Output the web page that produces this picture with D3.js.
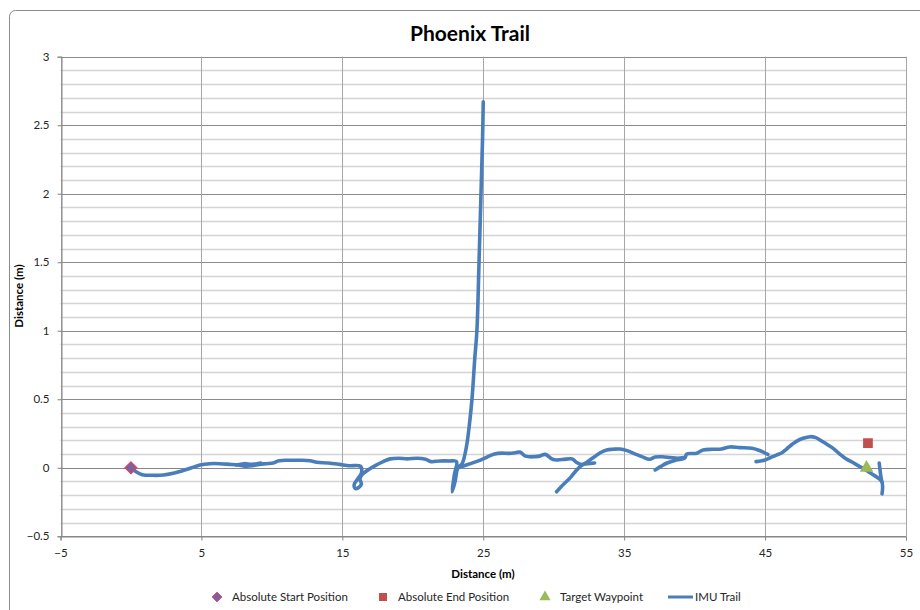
<!DOCTYPE html>
<html>
<head>
<meta charset="utf-8">
<script src="https://cdn.jsdelivr.net/npm/d3@7"></script>
<style>
  body { margin: 0; background: #fff; }
  svg { font-family: Lato, "Open Sans", sans-serif; }
</style>
</head>
<body>
<div class="canva"></div>
<script>
// Data (x, y in metres). Gaps split the trail into pieces.
const trailSeg1 = [
  [0, 0], [0.3, -0.025], [0.8, -0.05], [1.5, -0.055], [2.3, -0.053], [3.0, -0.04],
  [3.7, -0.02], [4.3, 0.0], [4.9, 0.02], [5.6, 0.03], [6.3, 0.03], [7.0, 0.025],
  [7.6, 0.02], [8.1, 0.012], [8.6, 0.015], [9.1, 0.025], [9.6, 0.03], [10.1, 0.035],
  [10.5, 0.052], [11.2, 0.055], [12.0, 0.055], [12.7, 0.052], [13.2, 0.04], [14.0, 0.035],
  [14.8, 0.025], [15.5, 0.015], [16.3, 0.01], [16.35, -0.04], [16.1, -0.08], [15.85, -0.12],
  [15.9, -0.15], [16.15, -0.145], [16.35, -0.12], [16.25, -0.08], [16.4, -0.05], [16.9, -0.01],
  [17.4, 0.02], [17.9, 0.045], [18.4, 0.065], [19.0, 0.07], [19.6, 0.065], [20.3, 0.07],
  [20.9, 0.062], [21.3, 0.045], [21.9, 0.05], [22.6, 0.05], [23.1, 0.045], [22.95, -0.05],
  [22.8, -0.175], [23.0, -0.1], [23.2, 0.0], [23.5, 0.03], [23.8, 0.15], [24.0, 0.3],
  [24.2, 0.5], [24.4, 0.8], [24.55, 1.0], [24.7, 1.5], [24.84, 2.0], [24.95, 2.4], [25.0, 2.67]
];
const trailSeg2 = [
  [7.5, 0.02], [8.0, 0.03], [8.6, 0.025], [9.2, 0.035]
];
const trailSeg3 = [
  [23.2, 0.0], [23.8, 0.02], [24.5, 0.045], [25.0, 0.065], [25.3, 0.08], [25.8, 0.1],
  [26.3, 0.107], [26.8, 0.105], [27.3, 0.11], [27.6, 0.115], [28.0, 0.085], [28.5, 0.08],
  [29.0, 0.085], [29.4, 0.098], [29.95, 0.06], [30.6, 0.06], [31.3, 0.065], [31.6, 0.04],
  [31.9, 0.025], [32.4, 0.03], [32.9, 0.035]
];
const trailSeg4 = [
  [30.2, -0.175], [30.7, -0.12], [31.2, -0.07], [31.6, -0.02], [31.9, 0.01], [32.4, 0.045],
  [32.9, 0.08], [33.3, 0.11], [33.76, 0.13], [34.2, 0.135], [34.7, 0.137], [35.2, 0.125],
  [35.8, 0.1], [36.3, 0.08], [36.8, 0.062], [37.2, 0.078], [37.7, 0.08], [38.25, 0.075],
  [38.8, 0.07], [39.2, 0.075]
];
const trailSeg5 = [
  [37.2, -0.016], [37.6, 0.01], [38.0, 0.033], [38.7, 0.057], [39.3, 0.07], [39.44, 0.1],
  [40.15, 0.106], [40.6, 0.13], [41.3, 0.135], [41.9, 0.137], [42.5, 0.152], [43.2, 0.147],
  [44.06, 0.142], [44.5, 0.13], [44.9, 0.113], [45.2, 0.098]
];
const trailSeg6 = [
  [44.36, 0.045], [44.7, 0.05], [45.0, 0.057], [45.4, 0.075], [45.8, 0.093], [46.2, 0.11],
  [46.5, 0.135], [46.9, 0.17], [47.25, 0.195], [47.7, 0.215], [48.2, 0.227], [48.6, 0.22],
  [48.9, 0.203], [49.4, 0.17], [49.85, 0.14], [50.3, 0.1], [50.68, 0.07], [51.2, 0.04],
  [51.74, 0.008], [52.2, -0.02], [52.7, -0.053], [53.28, -0.1], [53.3, -0.19]
];
const trailSeg7 = [
  [53.1, 0.035], [53.2, -0.05], [53.28, -0.1]
];
const imuTrail = [trailSeg1, trailSeg2, trailSeg3, trailSeg4, trailSeg5, trailSeg6, trailSeg7];

const startPos = [[0, 0]];
const endPos = [[52.3, 0.18]];
const targetWaypoint = [[52.2, 0.0]];

const xTicks = [-5, 5, 15, 25, 35, 45, 55];
const yTicks = [-0.5, 0, 0.5, 1, 1.5, 2, 2.5, 3];
const legendNames = ["Absolute Start Position", "Absolute End Position", "Target Waypoint", "IMU Trail"];

const width = 920, height = 610;
const plot = {left: 60.5, right: 906, top: 56.7, bottom: 536.3};

const svg = d3.select(".canva").append("svg")
  .attr("width", width)
  .attr("height", height);

// outer chart border (only top and left are in frame)
svg.append("rect")
  .attr("x", 9.5).attr("y", 10.5)
  .attr("width", 940).attr("height", 640)
  .attr("rx", 6)
  .attr("fill", "#fff")
  .attr("stroke", "#8c8c8c");

const x = d3.scaleLinear().domain([-5, 55]).range([plot.left, plot.right]);
const y = d3.scaleLinear().domain([-0.5, 3]).range([plot.bottom, plot.top]);

const grid = svg.append("g");

// minor horizontal gridlines
grid.selectAll(".minor")
  .data(d3.range(-5, 31).map(d => d / 10).filter(d => Math.round(d * 10) % 5 !== 0))
  .enter().append("line")
  .attr("x1", plot.left).attr("x2", plot.right)
  .attr("y1", d => Math.round(y(d)) + 0.5).attr("y2", d => Math.round(y(d)) + 0.5)
  .attr("stroke", "#d4d4d4").attr("stroke-width", 1.4);

// major horizontal gridlines
grid.selectAll(".major")
  .data(yTicks)
  .enter().append("line")
  .attr("x1", plot.left).attr("x2", plot.right)
  .attr("y1", d => Math.round(y(d)) + 0.5).attr("y2", d => Math.round(y(d)) + 0.5)
  .attr("stroke", "#8a8a8a");

// vertical gridlines
grid.selectAll(".vert")
  .data(xTicks)
  .enter().append("line")
  .attr("y1", plot.top).attr("y2", plot.bottom)
  .attr("x1", d => Math.round(x(d)) + 0.5).attr("x2", d => Math.round(x(d)) + 0.5)
  .attr("stroke", "#a6a6a6");

// x axis line at y = 0, labels along the bottom
grid.append("line")
  .attr("x1", plot.left).attr("x2", plot.right)
  .attr("y1", Math.round(y(0)) + 0.5).attr("y2", Math.round(y(0)) + 0.5)
  .attr("stroke", "#868686");

const xAxis = d3.axisBottom(x).tickValues(xTicks).tickSize(4).tickPadding(8);
const gx = svg.append("g")
  .attr("transform", `translate(0, ${Math.round(plot.bottom) + 0.5})`)
  .call(xAxis);

const yAxis = d3.axisLeft(y).tickValues(yTicks).tickSize(4).tickPadding(8).tickFormat(d3.format("~g"));
const gy = svg.append("g")
  .attr("transform", `translate(${Math.round(plot.left) + 0.5}, 0)`)
  .call(yAxis);

[gx, gy].forEach(g => {
  g.select(".domain").attr("stroke", "#868686");
  g.selectAll(".tick line").attr("stroke", "#868686");
  g.selectAll(".tick text").attr("fill", "#262626").attr("font-size", "11.5px")
    .attr("font-family", "Lato, sans-serif");
});

// IMU trail
const valueLine = d3.line()
  .x(d => x(d[0]))
  .y(d => y(d[1]))
  .curve(d3.curveCatmullRom.alpha(0.5));

svg.append("g").selectAll("path")
  .data(imuTrail)
  .enter().append("path")
  .attr("d", valueLine)
  .attr("fill", "none")
  .attr("stroke", "#4a7ebb")
  .attr("stroke-width", 3.6)
  .attr("stroke-linejoin", "round")
  .attr("stroke-linecap", "round");

// markers
const diamond = d3.symbol().type(d3.symbolDiamond2).size(90);
const square = d3.symbol().type(d3.symbolSquare).size(95);
const triangle = d3.symbol().type(d3.symbolTriangle).size(80);

svg.selectAll(".start").data(startPos).enter().append("path")
  .attr("d", diamond)
  .attr("transform", d => `translate(${x(d[0])},${y(d[1])})`)
  .attr("fill", "#7d60a0").attr("stroke", "#e04060").attr("stroke-width", 1.2);

svg.selectAll(".end").data(endPos).enter().append("path")
  .attr("d", square)
  .attr("transform", d => `translate(${x(d[0])},${y(d[1])})`)
  .attr("fill", "#c0504d");

svg.selectAll(".target").data(targetWaypoint).enter().append("path")
  .attr("d", triangle)
  .attr("transform", d => `translate(${x(d[0])},${y(d[1])})`)
  .attr("fill", "#9bbb59");

// title
svg.append("text")
  .attr("x", 470).attr("y", 41)
  .attr("text-anchor", "middle")
  .attr("font-size", "21px")
  .attr("font-weight", "bold")
  .attr("fill", "#000")
  .text("Phoenix Trail");

// X Axis Label
svg.append("text")
  .attr("x", 483).attr("y", 578)
  .attr("text-anchor", "middle")
  .attr("font-size", "11.5px")
  .attr("font-weight", "bold")
  .attr("fill", "#000")
  .text("Distance (m)");

// Y Axis Label
svg.append("text")
  .attr("transform", "translate(23, 296) rotate(-90)")
  .attr("text-anchor", "middle")
  .attr("font-size", "11.5px")
  .attr("font-weight", "bold")
  .attr("fill", "#000")
  .text("Distance (m)");

// legend
const legend = svg.append("g").attr("transform", "translate(0, 597)");
const legendX = [217, 383, 545, 668];
const legendSyms = [
  g => g.append("path").attr("d", d3.symbol().type(d3.symbolDiamond2).size(60)())
        .attr("fill", "#7d60a0").attr("stroke", "#e04060").attr("stroke-width", 1),
  g => g.append("path").attr("d", d3.symbol().type(d3.symbolSquare).size(64)()).attr("fill", "#c0504d"),
  g => g.append("path").attr("d", d3.symbol().type(d3.symbolTriangle).size(55)()).attr("fill", "#9bbb59"),
  g => g.append("line").attr("x1", 0).attr("x2", 25).attr("stroke", "#4a7ebb").attr("stroke-width", 3)
];
legendNames.forEach((name, i) => {
  const g = legend.append("g").attr("transform", `translate(${legendX[i]}, 0)`);
  legendSyms[i](g);
  g.append("text")
    .attr("x", i === 3 ? 27 : 15)
    .attr("y", 4)
    .attr("font-size", "11.5px")
    .attr("fill", "#262626")
    .text(name);
});
</script>
</body>
</html>
